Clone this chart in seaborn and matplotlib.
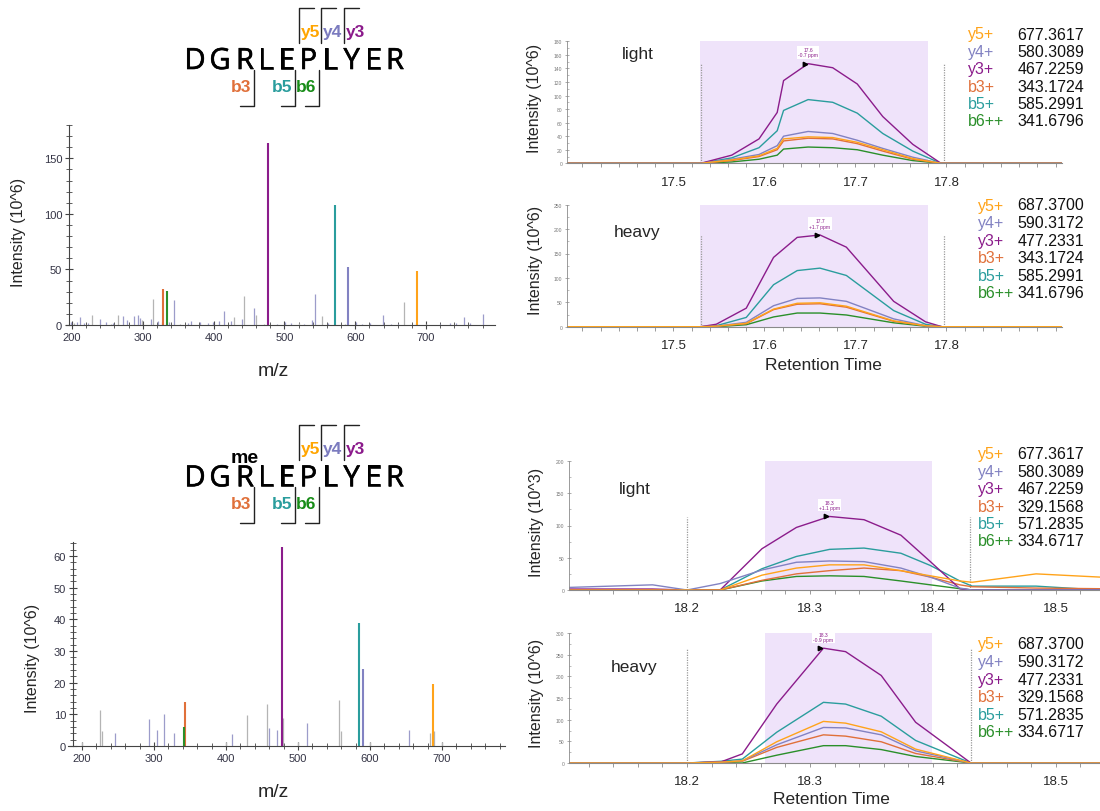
import matplotlib
matplotlib.use("Agg")
import numpy as np
import pandas as pd
import seaborn as sns
import matplotlib.pyplot as plt
import matplotlib.patheffects as pe
from matplotlib.lines import Line2D
from matplotlib.ticker import MultipleLocator, FixedLocator

# ---------------- data ----------------
sequence = list("DGRLEPLYER")
ions = ["y5", "y4", "y3", "b3", "b5", "b6"]
ion_names = ["y5+", "y4+", "y3+", "b3+", "b5+", "b6++"]

# MS2 spectrum, unmodified peptide
spec1_ion_mz = [687.4, 590.3, 477.2, 329.2, 571.3, 334.7]
spec1_ion_int = [48.8, 52.4, 163.5, 32.3, 107.8, 30.8]
spec1_grey_mz = [314.5, 443.2, 459.7, 553.4, 668.4, 227.8, 265.5, 685.4, 299.0, 429.0, 203.0, 255.0, 352.0, 471.0, 520.0, 585.0, 700.0]
spec1_grey_int = [23.4, 25.7, 9.0, 8.4, 21.0, 9.0, 9.0, 1.8, 4.5, 6.9, 1.5, 1.2, 1.0, 1.0, 1.5, 1.2, 1.0]
spec1_slate_mz = [344.7, 456.8, 414.4, 543.1, 638.7, 753.7, 780.6, 211.3, 240.0, 272.6, 278.2, 287.2, 293.3,
                  296.6, 312.2, 321.6, 327.7, 364.0, 368.7, 380.5, 399.3, 407.4, 424.3, 440.8, 500.7, 538.4,
                  561.5, 601.0, 620.8, 660.9, 734.0, 762.2, 199.0, 207.5, 216.5, 222.6, 247.6, 258.0, 336.7,
                  392.0, 490.0, 510.0, 527.0, 610.0, 650.0, 720.0, 743.0]
spec1_slate_int = [22.5, 15.0, 12.9, 27.8, 9.0, 7.5, 9.9, 7.5, 5.0, 8.4, 4.5, 7.8, 9.0,
                   6.0, 5.0, 4.0, 3.0, 2.0, 3.3, 2.4, 2.4, 3.3, 4.0, 5.0, 3.0, 4.5,
                   1.5, 3.0, 1.5, 1.2, 1.8, 1.8, 2.4, 3.0, 2.0, 1.5, 2.4, 2.0, 2.4,
                   1.5, 1.2, 1.5, 1.0, 1.2, 1.0, 1.0, 1.5]

# MS2 spectrum, methylated peptide
spec2_ion_mz = [687.4, 590.3, 477.2, 343.2, 585.3, 341.7]
spec2_ion_int = [19.7, 24.3, 62.9, 13.8, 38.7, 6.0]
spec2_grey_mz = [225.5, 227.8, 428.7, 456.5, 479.7, 557.6, 559.5, 683.8, 689.3, 700.0, 600.3, 200.0, 400.4, 500.6]
spec2_grey_int = [11.5, 4.6, 9.7, 13.2, 8.9, 14.4, 4.7, 4.2, 4.6, 1.3, 1.3, 1.3, 1.3, 1.3]
spec2_slate_mz = [246.4, 293.2, 304.4, 314.6, 327.6, 407.8, 459.3, 470.4, 513.1, 653.6]
spec2_slate_int = [4.2, 8.4, 4.9, 10.1, 4.2, 3.9, 5.8, 4.9, 7.3, 4.9]

# XIC, unmodified peptide, light
xic1l_rt = [17.383, 17.530, 17.564, 17.594, 17.614, 17.621, 17.648, 17.675, 17.702, 17.730, 17.763, 17.794, 17.927]
xic1l_y5 = [0, 0, 5, 11, 22, 36, 39, 38, 31, 20, 7, 0, 0]
xic1l_y4 = [0, 0, 6, 13, 26, 40, 47, 44, 34, 22, 9, 0, 0]
xic1l_y3 = [0, 0, 12, 36, 75, 122, 147, 141, 117, 69, 28, 0, 0]
xic1l_b3 = [0, 0, 4, 10, 20, 33, 37, 36, 29, 18, 6, 0, 0]
xic1l_b5 = [0, 0, 8, 23, 48, 78, 94, 90, 74, 44, 18, 0, 0]
xic1l_b6 = [0, 0, 2, 6, 12, 21, 24, 23, 20, 12, 4, 0, 0]
xic1l_mz = ["677.3617", "580.3089", "467.2259", "343.1724", "585.2991", "341.6796"]
xic1l_window = [17.529, 17.780]
xic1l_bounds = [17.530, 17.797]
xic1l_ppm = "-0.7 ppm"

# XIC, unmodified peptide, heavy
xic1h_rt = [17.383, 17.530, 17.547, 17.580, 17.610, 17.636, 17.661, 17.690, 17.742, 17.777, 17.795, 17.927]
xic1h_y5 = [0, 0, 1, 7, 36, 48, 49, 42, 12, 2, 0, 0]
xic1h_y4 = [0, 0, 1, 9, 43, 58, 59, 52, 16, 2, 0, 0]
xic1h_y3 = [0, 0, 5, 38, 142, 183, 188, 163, 52, 10, 0, 0]
xic1h_b3 = [0, 0, 1, 6, 35, 46, 47, 40, 11, 2, 0, 0]
xic1h_b5 = [0, 0, 2, 19, 86, 115, 120, 105, 33, 5, 0, 0]
xic1h_b6 = [0, 0, 0, 4, 20, 28, 28, 24, 8, 1, 0, 0]
xic1h_mz = ["687.3700", "590.3172", "477.2331", "343.1724", "585.2991", "341.6796"]
xic1h_window = [17.529, 17.780]
xic1h_bounds = [17.530, 17.797]
xic1h_ppm = "+1.7 ppm"
xic1_ticks = [17.5, 17.6, 17.7, 17.8]

# XIC, methylated peptide, light
xic2l_rt = [18.104, 18.172, 18.200, 18.227, 18.261, 18.289, 18.316, 18.344, 18.374, 18.398, 18.422, 18.432, 18.484, 18.536]
xic2l_y5 = [0, 0, 0, 0, 23, 34, 39, 39, 30, 22, 14, 12, 25, 20]
xic2l_y4 = [4, 8, 0, 10, 31, 43, 45, 44, 34, 20, 3, 0, 0, 0]
xic2l_y3 = [1.5, 1.5, 0, 0, 64, 97, 114, 109, 85, 44, 2, 0, 0, 0]
xic2l_b3 = [0, 0, 0, 0, 15, 25, 30, 34, 30, 20, 8, 5, 3, 2]
xic2l_b5 = [0, 0, 0, 0, 33, 52, 63, 65, 57, 38, 14, 6, 6, 0]
xic2l_b6 = [0, 0, 0, 0, 14, 21, 22, 21, 14, 8, 2, 0, 0, 0]
xic2l_mz = ["677.3617", "580.3089", "467.2259", "329.1568", "571.2835", "334.6717"]
xic2l_window = [18.2635, 18.399]
xic2l_bounds = [18.200, 18.430]
xic2l_ppm = "+1.1 ppm"

# XIC, methylated peptide, heavy
xic2h_rt = [18.104, 18.200, 18.228, 18.245, 18.273, 18.311, 18.329, 18.358, 18.386, 18.431, 18.536]
xic2h_y5 = [0, 0, 2, 5, 49, 96, 92, 72, 32, 0, 0]
xic2h_y4 = [0, 0, 2, 5, 42, 82, 81, 65, 28, 0, 0]
xic2h_y3 = [0, 0, 3, 21, 136, 265, 257, 202, 94, 0, 0]
xic2h_b3 = [0, 0, 2, 4, 36, 65, 62, 49, 22, 0, 0]
xic2h_b5 = [0, 0, 4, 9, 71, 140, 136, 108, 52, 0, 0]
xic2h_b6 = [0, 0, 1, 0, 18, 40, 40, 31, 15, 0, 0]
xic2h_mz = ["687.3700", "590.3172", "477.2331", "329.1568", "571.2835", "334.6717"]
xic2h_window = [18.2635, 18.399]
xic2h_bounds = [18.200, 18.431]
xic2h_ppm = "-0.9 ppm"
xic2_ticks = [18.2, 18.3, 18.4, 18.5]

# ---------------- style ----------------
ion_colors = {"y5": "#ffa31a", "y4": "#8282c2", "y3": "#8b1c8b",
              "b3": "#e0703a", "b5": "#2a9d9d", "b6": "#2a8f2a"}
frag_colors = {"y5": "#ffa500", "y4": "#7b7bbf", "y3": "#8b1a8b",
               "b3": "#e0703a", "b5": "#2a9d9d", "b6": "#178c17"}

sns.set_theme(style="ticks")
plt.rcParams["font.family"] = ["Liberation Sans", "DejaVu Sans"]

W, H = 1100, 812
fig = plt.figure(figsize=(11, 8.12), dpi=100)


def fx(px):
    return px / W


def fy(py):
    return 1 - py / H


def rect(l, t, r, b):
    return [fx(l), fy(b), (r - l) / W, (b - t) / H]


def fline(xs, ys, **kw):
    fig.add_artist(Line2D([fx(x) for x in xs], [fy(y) for y in ys],
                          transform=fig.transFigure, **kw))


# ---------------- peptide sequence with fragment brackets ----------------
letter_x = [195, 220, 245, 265.7, 286.7, 308.3, 330, 351.7, 373.3, 395]
y_cuts = {"y5": 299, "y4": 321, "y3": 344}
b_cuts = {"b3": 254.3, "b5": 295, "b6": 319}
semibold = [pe.withStroke(linewidth=0.45, foreground="black")]


def draw_peptide(base, me=False):
    for ch, x in zip(sequence, letter_x):
        fig.text(fx(x), fy(base), ch, ha="center", va="baseline", fontsize=21,
                 family=["Open Sans", "DejaVu Sans"], color="black", path_effects=semibold)
    top, bot = base - 61, base - 26
    for ion, x in y_cuts.items():
        fline([x + 14.5, x, x], [top, top, bot], color="#222222", lw=1)
        fig.text(fx(x + 1.5), fy(base - 33), ion, ha="left", va="baseline", fontsize=12.5,
                 fontweight="bold", color=frag_colors[ion])
    top, bot = base + 1, base + 37
    for ion, x in b_cuts.items():
        fline([x, x, x - 14.5], [top, bot, bot], color="#222222", lw=1)
        fig.text(fx(x - 3), fy(base + 22), ion, ha="right", va="baseline", fontsize=12.5,
                 fontweight="bold", color=frag_colors[ion])
    if me:
        fig.text(fx(245), fy(base - 24.6), "me", ha="center", va="baseline", fontsize=14,
                 fontweight="bold", color="black")


draw_peptide(70)
draw_peptide(487.3, me=True)


# ---------------- MS2 spectra ----------------
def draw_spectrum(r, ion_mz, ion_int, grey_mz, grey_int, slate_mz, slate_int,
                  xlim, spine_x, ylim, ymaj, ymin):
    ax = fig.add_axes(r)
    ax.vlines(grey_mz, 0, grey_int, color="#b4b4b4", lw=0.9)
    ax.vlines(slate_mz, 0, slate_int, color="#9c9cca", lw=0.9)
    ax.vlines(ion_mz, 0, ion_int, color=[ion_colors[i] for i in ions], lw=1.5)
    ax.set_xlim(*xlim)
    ax.set_ylim(*ylim)
    sns.despine(ax=ax)
    ax.spines["left"].set_position(("data", spine_x))
    for s in ("left", "bottom"):
        ax.spines[s].set_color("#444444")
        ax.spines[s].set_linewidth(0.8)
    ax.xaxis.set_major_locator(MultipleLocator(100))
    ax.xaxis.set_minor_locator(MultipleLocator(20))
    ax.yaxis.set_major_locator(MultipleLocator(ymaj))
    ax.yaxis.set_minor_locator(MultipleLocator(ymin))
    ax.tick_params(which="major", direction="inout", length=6, width=0.8, color="#444444",
                   labelsize=8, labelcolor="#333344", pad=2)
    ax.tick_params(which="minor", direction="inout", length=4, width=0.6, color="#444444")
    ax.set_facecolor("none")
    return ax


draw_spectrum(rect(66, 126, 495, 326), spec1_ion_mz, spec1_ion_int, spec1_grey_mz, spec1_grey_int,
              spec1_slate_mz, spec1_slate_int, (191.5, 797.5), 195.8, (0, 180), 50, 10)
draw_spectrum(rect(68, 543, 505, 747), spec2_ion_mz, spec2_ion_int, spec2_grey_mz, spec2_grey_int,
              spec2_slate_mz, spec2_slate_int, (180.6, 787.5), 187.5, (0, 64.4), 10, 2)

fig.text(fx(19), fy(232), "Intensity (10^6)", rotation=90, ha="center", va="center", fontsize=11.5)
fig.text(fx(33), fy(658), "Intensity (10^6)", rotation=90, ha="center", va="center", fontsize=11.5)
fig.text(fx(273), fy(372), "m/z", ha="center", va="center", fontsize=14)
fig.text(fx(273), fy(793), "m/z", ha="center", va="center", fontsize=14)


# ---------------- XIC chromatograms ----------------
def trace_frame(rt, series):
    rows = []
    for ion, vals in zip(ions, series):
        for t, v in zip(rt, vals):
            rows.append((t, v, ion))
    return pd.DataFrame(rows, columns=["rt", "intensity", "ion"])


def draw_xic(r, rt, series, xlim, xticks, ylim, ystep, window, bounds, bound_top, ppm):
    ax = fig.add_axes(r)
    ax.axvspan(window[0], window[1], color="#efe3fa", lw=0, zorder=0)
    for b in bounds:
        ax.plot([b, b], [0, bound_top], color="#9a9a9a", lw=0.9, ls=(0, (1, 1)), zorder=1)
    df = trace_frame(rt, series)
    sns.lineplot(data=df, x="rt", y="intensity", hue="ion", hue_order=ions[::-1],
                 palette=ion_colors, estimator=None, legend=False, lw=1.0, ax=ax, zorder=2)
    # apex annotation on y3
    y3 = series[2]
    k = int(np.argmax(y3))
    ax.plot(rt[k] - 0.003, y3[k], marker=">", ms=3.2, color="black", zorder=4)
    ax.annotate(f"{rt[k]:.1f}\n{ppm}", xy=(rt[k], y3[k]), xytext=(0, 4.5),
                textcoords="offset points", ha="center", va="bottom", fontsize=3.6,
                color="#8b1c8b", linespacing=1.1, zorder=5,
                bbox=dict(boxstyle="square,pad=0.25", fc="white", ec="none"))
    ax.set_xlim(*xlim)
    ax.set_ylim(*ylim)
    ax.set_xlabel("")
    ax.set_ylabel("")
    sns.despine(ax=ax)
    ax.spines["left"].set_color("#8a8a8a")
    ax.spines["left"].set_linewidth(0.6)
    ax.spines["bottom"].set_color("#8a8a8a")
    ax.spines["bottom"].set_linewidth(0.8)
    ax.xaxis.set_major_locator(FixedLocator(xticks))
    ax.xaxis.set_minor_locator(MultipleLocator(0.02))
    ax.xaxis.set_major_formatter(matplotlib.ticker.FormatStrFormatter("%.1f"))
    ax.yaxis.set_major_locator(MultipleLocator(ystep))
    ax.yaxis.set_minor_locator(MultipleLocator(ystep / 2))
    ax.tick_params(axis="x", which="both", direction="out", length=3, width=0.6, color="#8a8a8a",
                   labelsize=9.5, pad=6)
    ax.tick_params(axis="y", which="major", direction="inout", length=3, width=0.5, color="#8a8a8a",
                   labelsize=3.6, labelcolor="#777777", pad=2)
    ax.tick_params(axis="y", which="minor", direction="in", length=1.5, width=0.4, color="#8a8a8a")
    ax.set_facecolor("none")
    return ax


draw_xic(rect(567, 42.3, 1062, 164.3), xic1l_rt,
         [xic1l_y5, xic1l_y4, xic1l_y3, xic1l_b3, xic1l_b5, xic1l_b6],
         (17.383, 17.927), xic1_ticks, (0, 180), 20, xic1l_window, xic1l_bounds, 146, xic1l_ppm)
draw_xic(rect(567, 205.7, 1062, 327.7), xic1h_rt,
         [xic1h_y5, xic1h_y4, xic1h_y3, xic1h_b3, xic1h_b5, xic1h_b6],
         (17.383, 17.927), xic1_ticks, (0, 250), 50, xic1h_window, xic1h_bounds, 188, xic1h_ppm)
draw_xic(rect(569, 462, 1100, 591), xic2l_rt,
         [xic2l_y5, xic2l_y4, xic2l_y3, xic2l_b3, xic2l_b5, xic2l_b6],
         (18.104, 18.536), xic2_ticks, (0, 200), 50, xic2l_window, xic2l_bounds, 113, xic2l_ppm)
draw_xic(rect(569, 634, 1100, 764), xic2h_rt,
         [xic2h_y5, xic2h_y4, xic2h_y3, xic2h_b3, xic2h_b5, xic2h_b6],
         (18.104, 18.536), xic2_ticks, (0, 300), 50, xic2h_window, xic2h_bounds, 263, xic2h_ppm)

# panel titles, y labels, x labels
fig.text(fx(638), fy(55), "light", ha="center", va="center", fontsize=12.5)
fig.text(fx(637), fy(232), "heavy", ha="center", va="center", fontsize=12.5)
fig.text(fx(635), fy(490), "light", ha="center", va="center", fontsize=12.5)
fig.text(fx(634), fy(668), "heavy", ha="center", va="center", fontsize=12.5)

fig.text(fx(535), fy(98), "Intensity (10^6)", rotation=90, ha="center", va="center", fontsize=11.5)
fig.text(fx(535.5), fy(260), "Intensity (10^6)", rotation=90, ha="center", va="center", fontsize=11.5)
fig.text(fx(536.6), fy(522), "Intensity (10^3)", rotation=90, ha="center", va="center", fontsize=11.5)
fig.text(fx(536.6), fy(693), "Intensity (10^6)", rotation=90, ha="center", va="center", fontsize=11.5)

fig.text(fx(823), fy(365), "Retention Time", ha="center", va="center", fontsize=12.5)
fig.text(fx(831), fy(800), "Retention Time", ha="center", va="center", fontsize=12.5)


# transition lists
def draw_transitions(label_x, top, step, mz_list):
    for j, (ion, nm, mz) in enumerate(zip(ions, ion_names, mz_list)):
        y = top + j * step
        fig.text(fx(label_x), fy(y), nm, ha="left", va="center", fontsize=11.5, color=ion_colors[ion])
        fig.text(fx(1017.6), fy(y), mz, ha="left", va="center", fontsize=11.5, color="#111111")


draw_transitions(967.6, 35, 17.4, xic1l_mz)
draw_transitions(978, 206, 17.6, xic1h_mz)
draw_transitions(978, 455, 17.4, xic2l_mz)
draw_transitions(978, 645, 17.6, xic2h_mz)

fig.savefig("out.png", dpi=100, facecolor="white")
